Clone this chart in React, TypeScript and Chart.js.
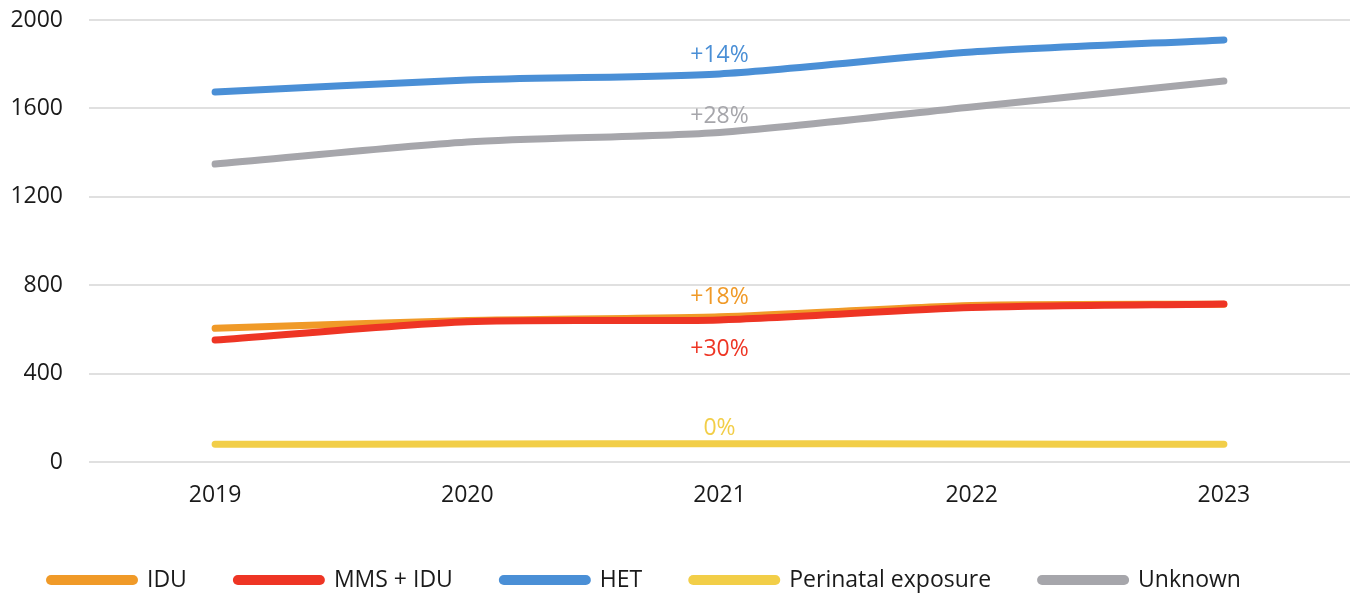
import React, { useEffect, useRef } from 'react';
import { Chart, registerables } from 'chart.js';

Chart.register(...registerables);

const years = ['2019', '2020', '2021', '2022', '2023'];
const seriesNames = ['IDU', 'MMS + IDU', 'HET', 'Perinatal exposure', 'Unknown'];
const idu = [605, 640, 657, 708, 714];
const mmsIdu = [552, 635, 643, 699, 715];
const het = [1674, 1729, 1756, 1855, 1910];
const perinatal = [80, 81, 83, 81, 80];
const unknown = [1348, 1448, 1491, 1606, 1724];
const changeLabels = ['+18%', '+30%', '+14%', '0%', '+28%'];
const yMin = 0;
const yMax = 2000;
const yStep = 400;

const colors = ['#F09A28', '#EE3524', '#4A8FD6', '#F2CE48', '#A6A6AB'];
const FONT = '"Open Sans", "Noto Sans", sans-serif';

const changeLabelPlugin = {
  id: 'changeLabels',
  afterDatasetsDraw(chart: any) {
    const ctx = chart.ctx;
    const offsets = [-19, 30, -18, -15, -16];
    const idx = 2;
    ctx.save();
    ctx.font = `23px ${FONT}`;
    ctx.textAlign = 'center';
    ctx.textBaseline = 'middle';
    chart.data.datasets.forEach((ds: any, i: number) => {
      const meta = chart.getDatasetMeta(i);
      const pt = meta.data[idx];
      if (!pt) return;
      ctx.fillStyle = ds.borderColor;
      ctx.fillText(changeLabels[i], pt.x, pt.y + offsets[i]);
    });
    ctx.restore();
  },
};

const legendPlugin = {
  id: 'customLegend',
  afterDraw(chart: any) {
    const ctx = chart.ctx;
    ctx.save();
    ctx.font = `23px ${FONT}`;
    ctx.textBaseline = 'middle';
    ctx.textAlign = 'left';
    let x = 46;
    const y = 580;
    chart.data.datasets.forEach((ds: any) => {
      ctx.strokeStyle = ds.borderColor;
      ctx.lineWidth = 10;
      ctx.lineCap = 'round';
      ctx.beginPath();
      ctx.moveTo(x + 5, y);
      ctx.lineTo(x + 87, y);
      ctx.stroke();
      ctx.fillStyle = '#1a1a1a';
      ctx.fillText(ds.label, x + 101, y);
      x += 101 + ctx.measureText(ds.label).width + 46;
    });
    ctx.restore();
  },
};

export default function App() {
  const ref = useRef<HTMLCanvasElement | null>(null);

  useEffect(() => {
    if (!ref.current) return;
    const values = [idu, mmsIdu, het, perinatal, unknown];
    const chart = new Chart(ref.current, {
      type: 'line',
      data: {
        labels: years,
        datasets: values.map((v, i) => ({
          label: seriesNames[i],
          data: v,
          borderColor: colors[i],
          backgroundColor: colors[i],
          borderWidth: 7,
          borderCapStyle: 'round',
          borderJoinStyle: 'round',
          pointRadius: 0,
          tension: 0.25,
          fill: false,
          order: 5 - i,
        })),
      },
      options: {
        animation: false,
        responsive: true,
        maintainAspectRatio: false,
        devicePixelRatio: 1,
        layout: { padding: { top: 20, bottom: 82, left: 0, right: 0 } },
        plugins: {
          legend: { display: false },
          tooltip: { enabled: false },
        },
        scales: {
          x: {
            offset: true,
            grid: { display: false, drawTicks: false },
            border: { display: false },
            ticks: { color: '#1a1a1a', font: { family: FONT, size: 23 }, padding: 20 },
            afterFit: (s: any) => {
              s.height = 50;
              s.paddingLeft = 0;
              s.paddingRight = 0;
            },
          },
          y: {
            min: yMin,
            max: yMax,
            grid: { color: '#e0e0e0', lineWidth: 2, drawTicks: false },
            border: { display: false },
            ticks: {
              stepSize: yStep,
              color: '#1a1a1a',
              font: { family: FONT, size: 23 },
              padding: 26,
              callback: (v: any) => String(v),
            },
            afterFit: (s: any) => {
              s.width = 89;
              s.paddingTop = 0;
              s.paddingBottom = 0;
            },
          },
        },
      },
      plugins: [changeLabelPlugin, legendPlugin],
    } as any);
    return () => chart.destroy();
  }, []);

  return (
    <div style={{ position: 'absolute', left: 0, top: 0, width: 1350, height: 594, overflow: 'hidden' }}>
      <canvas ref={ref} />
    </div>
  );
}
